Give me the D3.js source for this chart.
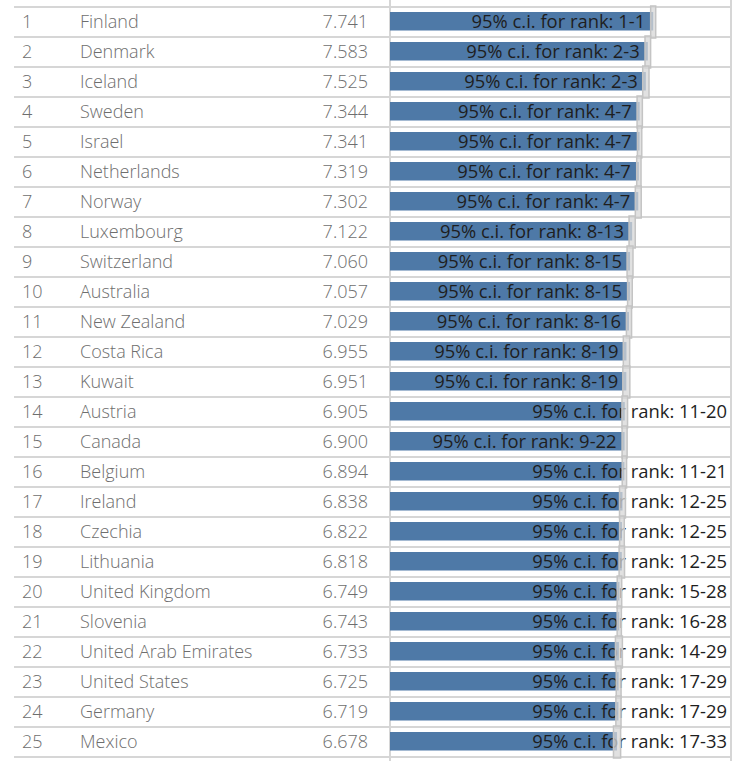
<!DOCTYPE html>
<html>
<head>
<meta charset="utf-8">
<style>
    body { margin: 0; background: #fff; }
    svg { display: block; }
    .side text { font-family: 'Open Sans', sans-serif; font-size: 18px; font-weight: 300; fill: #6e6e6e; }
    .ci-label { font-family: 'Open Sans', sans-serif; font-size: 18.4px; fill: #1e1e1e; }
</style>
</head>
<body>
<svg width="740" height="761"></svg>
<script src="https://cdnjs.cloudflare.com/ajax/libs/d3/7.8.5/d3.min.js"></script>
<script>
    // values
    let countries = ["Finland", "Denmark", "Iceland", "Sweden", "Israel", "Netherlands", "Norway",
        "Luxembourg", "Switzerland", "Australia", "New Zealand", "Costa Rica", "Kuwait", "Austria",
        "Canada", "Belgium", "Ireland", "Czechia", "Lithuania", "United Kingdom", "Slovenia",
        "United Arab Emirates", "United States", "Germany", "Mexico"]
    let scores = [7.741, 7.583, 7.525, 7.344, 7.341, 7.319, 7.302, 7.122, 7.060, 7.057, 7.029,
        6.955, 6.951, 6.905, 6.900, 6.894, 6.838, 6.822, 6.818, 6.749, 6.743, 6.733, 6.725, 6.719, 6.678]
    // whisker ends (estimated)
    let lower = [7.667, 7.500, 7.433, 7.267, 7.277, 7.256, 7.215, 7.031, 6.973, 6.988, 6.953,
        6.862, 6.848, 6.823, 6.826, 6.830, 6.751, 6.753, 6.738, 6.683, 6.681, 6.631, 6.654, 6.643, 6.573]
    let upper = [7.815, 7.665, 7.618, 7.422, 7.405, 7.383, 7.389, 7.213, 7.147, 7.125, 7.105,
        7.049, 7.054, 6.987, 6.974, 6.958, 6.925, 6.891, 6.898, 6.815, 6.805, 6.835, 6.796, 6.795, 6.783]
    let rankLow = [1, 2, 2, 4, 4, 4, 4, 8, 8, 8, 8, 8, 8, 11, 9, 11, 12, 12, 12, 15, 16, 14, 17, 17, 17]
    let rankHigh = [1, 3, 3, 7, 7, 7, 7, 13, 15, 15, 16, 19, 19, 20, 22, 21, 25, 25, 25, 28, 28, 29, 29, 29, 33]

    let data = countries.map((c, i) => ({
        rank: i + 1, country: c, score: scores[i],
        lo: lower[i], hi: upper[i], rLo: rankLow[i], rHi: rankHigh[i]
    }))

    let svg = d3.select("svg")

    let y = d3.scaleBand()
        .domain(countries)
        .range([7, 757])
        .padding(0)

    let x = d3.scaleLinear()
        .domain([0, 10])
        .range([390, 730])

    let gridColor = "#d6d6d6"

    // row lines, left pane and bar pane
    let lines = d3.range(countries.length + 1).map(i => 7 + i * y.step())
    svg.append("g").selectAll("line")
        .data(lines)
        .join("line")
        .attr("x1", 14).attr("x2", 731)
        .attr("y1", d => d).attr("y2", d => d)
        .style("stroke", gridColor)
        .style("stroke-width", "2px")

    // pane borders
    svg.append("g").selectAll("line")
        .data([390, 731])
        .join("line")
        .attr("x1", d => d).attr("x2", d => d)
        .attr("y1", 0).attr("y2", 761)
        .style("stroke", gridColor)
        .style("stroke-width", "2px")

    // left table
    let side = svg.append("g").attr("class", "side")
    side.selectAll(".rank")
        .data(data)
        .join("text")
        .attr("class", "rank")
        .attr("x", 22)
        .attr("y", d => y(d.country) + y.bandwidth() / 2)
        .attr("dy", "0.35em")
        .text(d => d.rank)
    side.selectAll(".name")
        .data(data)
        .join("text")
        .attr("class", "name")
        .attr("x", 80)
        .attr("y", d => y(d.country) + y.bandwidth() / 2)
        .attr("dy", "0.35em")
        .text(d => d.country)
    side.selectAll(".score")
        .data(data)
        .join("text")
        .attr("class", "score")
        .attr("x", 368)
        .attr("y", d => y(d.country) + y.bandwidth() / 2)
        .attr("dy", "0.35em")
        .style("text-anchor", "end")
        .text(d => d3.format(".3f")(d.score))

    // bars
    svg.append("g").selectAll("rect")
        .data(data)
        .join("rect")
        .attr("x", x(0))
        .attr("y", d => y(d.country) + 5)
        .attr("width", d => x(d.score) - x(0))
        .attr("height", 18.5)
        .style("fill", "#4e79a7")

    // labels: two-digit lower rank ones go to the right edge
    svg.append("g").selectAll("text")
        .data(data)
        .join("text")
        .attr("class", "ci-label")
        .attr("x", d => d.rLo >= 10 ? 727 : x(d.score) - 8)
        .attr("y", d => y(d.country) + y.bandwidth() / 2)
        .attr("dy", "0.35em")
        .style("text-anchor", "end")
        .text(d => "95% c.i. for rank: " + d.rLo + "-" + d.rHi)

    // whiskers drawn over everything
    svg.append("g").selectAll("rect")
        .data(data)
        .join("rect")
        .attr("x", d => x(d.lo))
        .attr("y", d => y(d.country) - 1)
        .attr("width", d => x(d.hi) - x(d.lo))
        .attr("height", y.bandwidth() + 2)
        .style("fill", "rgba(215,215,215,0.75)")
        .style("stroke", "#c4c4c4")
        .style("stroke-width", "1.5px")
</script>
</body>
</html>
